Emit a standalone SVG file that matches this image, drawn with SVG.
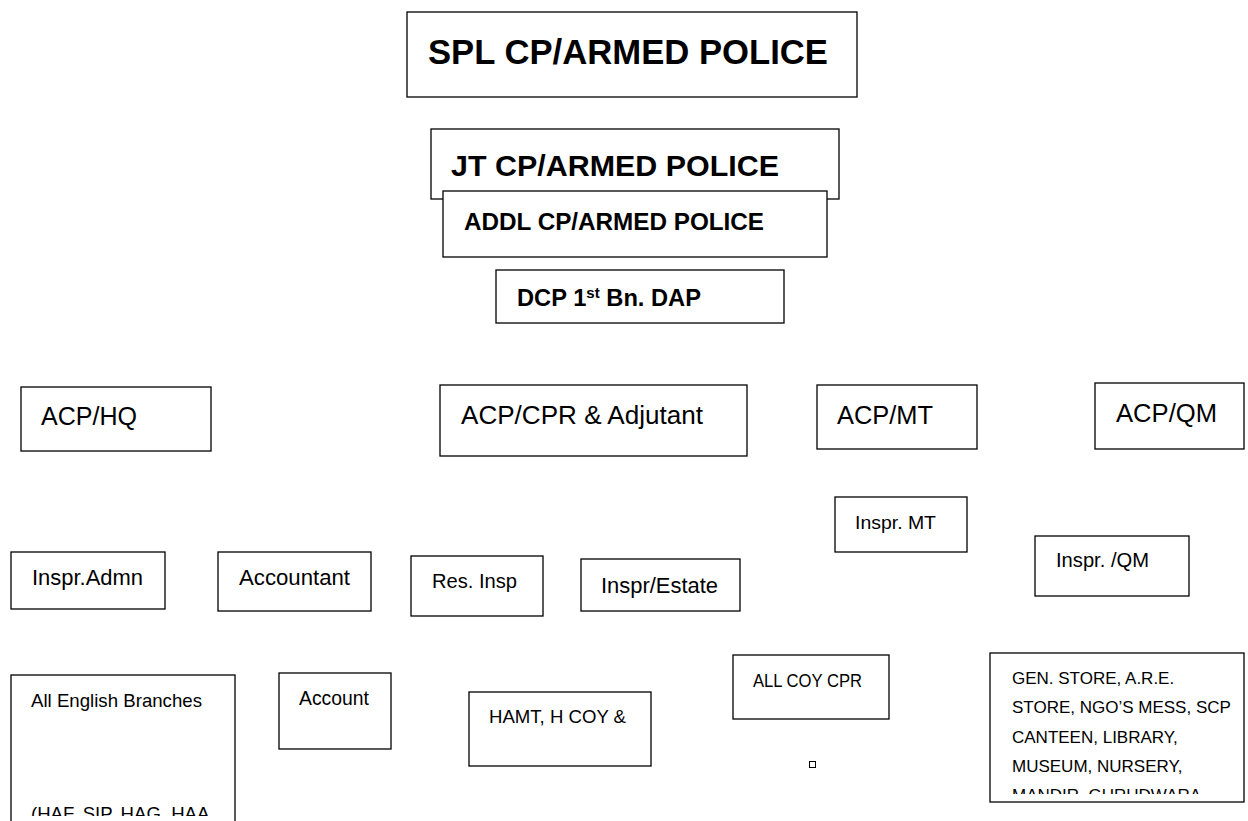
<svg xmlns="http://www.w3.org/2000/svg" width="1248" height="821" viewBox="0 0 1248 821">
<style>
.box{fill:#fff;stroke:#000;stroke-width:1.3}
.t{font-family:"Liberation Sans",Arial,sans-serif;fill:#000}
.b{font-weight:bold}
</style>
<defs>
<clipPath id="clipAEB"><rect x="12" y="676" width="222" height="140"/></clipPath>
<clipPath id="clipGEN"><rect x="991" y="654" width="252" height="140"/></clipPath>
</defs>
<rect width="1248" height="821" fill="#fff"/>
<g id="connectors"/>
<g id="spl"><rect class="box" x="407" y="12" width="450" height="85"/><text class="t b" x="428" y="64" font-size="34.5" textLength="400" lengthAdjust="spacingAndGlyphs">SPL CP/ARMED POLICE</text></g>
<g id="jt"><rect class="box" x="431" y="129" width="408" height="70"/><text class="t b" x="451" y="176" font-size="30.4" textLength="328" lengthAdjust="spacingAndGlyphs">JT CP/ARMED POLICE</text></g>
<g id="addl"><rect class="box" x="443" y="191" width="384" height="66"/><text class="t b" x="464" y="230" font-size="24.2" textLength="300" lengthAdjust="spacingAndGlyphs">ADDL CP/ARMED POLICE</text></g>
<g id="dcp"><rect class="box" x="496" y="270" width="288" height="53"/><text class="t b" x="517" y="306" font-size="23.7">DCP 1<tspan font-size="15" dy="-8">st</tspan><tspan dy="8"> Bn. DAP</tspan></text></g>
<g id="acphq"><rect class="box" x="21" y="387" width="190" height="64"/><text class="t" x="41" y="425" font-size="25" textLength="96" lengthAdjust="spacingAndGlyphs">ACP/HQ</text></g>
<g id="acpcpr"><rect class="box" x="440" y="385" width="307" height="71"/><text class="t" x="461" y="424" font-size="25.5" textLength="242" lengthAdjust="spacingAndGlyphs">ACP/CPR &amp; Adjutant</text></g>
<g id="acpmt"><rect class="box" x="817" y="385" width="160" height="64"/><text class="t" x="837" y="424" font-size="25.4" textLength="96" lengthAdjust="spacingAndGlyphs">ACP/MT</text></g>
<g id="acpqm"><rect class="box" x="1095" y="383" width="149" height="66"/><text class="t" x="1116" y="422" font-size="25.6" textLength="101" lengthAdjust="spacingAndGlyphs">ACP/QM</text></g>
<g id="insprmt"><rect class="box" x="835" y="497" width="132" height="55"/><text class="t" x="855" y="529" font-size="19.2" textLength="81" lengthAdjust="spacingAndGlyphs">Inspr. MT</text></g>
<g id="insprqm"><rect class="box" x="1035" y="536" width="154" height="60"/><text class="t" x="1056" y="567" font-size="19.9" textLength="93" lengthAdjust="spacingAndGlyphs">Inspr. /QM</text></g>
<g id="inspradmn"><rect class="box" x="11" y="552" width="154" height="57"/><text class="t" x="32" y="585" font-size="21.7" textLength="111" lengthAdjust="spacingAndGlyphs">Inspr.Admn</text></g>
<g id="accountant"><rect class="box" x="218" y="552" width="153" height="59"/><text class="t" x="239" y="585" font-size="22" textLength="111" lengthAdjust="spacingAndGlyphs">Accountant</text></g>
<g id="resinsp"><rect class="box" x="411" y="556" width="132" height="60"/><text class="t" x="432" y="588" font-size="20.8" textLength="85" lengthAdjust="spacingAndGlyphs">Res. Insp</text></g>
<g id="insprestate"><rect class="box" x="581" y="559" width="159" height="52"/><text class="t" x="601" y="593" font-size="21.9" textLength="117" lengthAdjust="spacingAndGlyphs">Inspr/Estate</text></g>
<g id="allenglish"><rect class="box" x="11" y="675" width="224" height="160"/><g clip-path="url(#clipAEB)"><text class="t" x="31" y="707" font-size="18.6" textLength="171" lengthAdjust="spacingAndGlyphs">All English Branches</text><text class="t" x="31" y="820" font-size="18.6">(HAF, SIP, HAG, HAA</text></g></g>
<g id="account"><rect class="box" x="279" y="673" width="112" height="76"/><text class="t" x="299" y="705" font-size="19.4" textLength="70" lengthAdjust="spacingAndGlyphs">Account</text></g>
<g id="hamt"><rect class="box" x="469" y="692" width="182" height="74"/><text class="t" x="489" y="723" font-size="18.8" textLength="137" lengthAdjust="spacingAndGlyphs">HAMT, H COY &amp;</text></g>
<g id="allcoy"><rect class="box" x="733" y="655" width="156" height="64"/><text class="t" x="753" y="687" font-size="17.5" textLength="109" lengthAdjust="spacingAndGlyphs">ALL COY CPR</text></g>
<g id="smallsq"><rect x="809.5" y="761.5" width="6" height="6" fill="#fff" stroke="#000" stroke-width="1"/></g>
<g id="genstore"><rect class="box" x="990" y="653" width="254" height="149"/><g clip-path="url(#clipGEN)" class="t" font-size="17"><text class="t" x="1012" y="684">GEN. STORE, A.R.E.</text><text class="t" x="1012" y="713">STORE, NGO’S MESS, SCP</text><text class="t" x="1012" y="743">CANTEEN, LIBRARY,</text><text class="t" x="1012" y="772">MUSEUM, NURSERY,</text><text class="t" x="1012" y="801">MANDIR, GURUDWARA</text></g></g>
</svg>
